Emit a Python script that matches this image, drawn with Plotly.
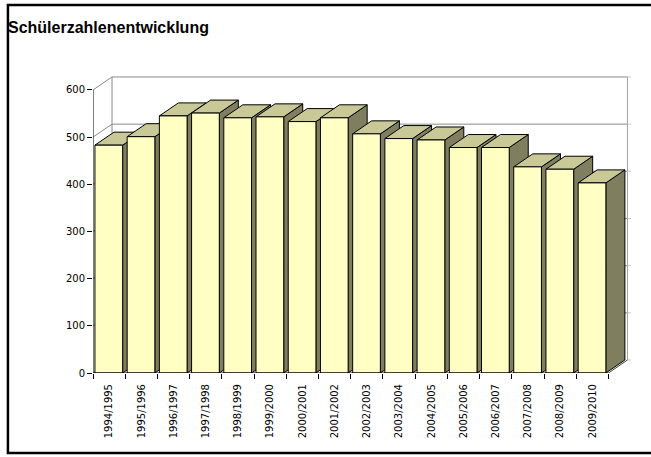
import plotly.graph_objects as go

# ---- data ----
categories = ["1994/1995", "1995/1996", "1996/1997", "1997/1998", "1998/1999",
              "1999/2000", "2000/2001", "2001/2002", "2002/2003", "2003/2004",
              "2004/2005", "2005/2006", "2006/2007", "2007/2008", "2008/2009",
              "2009/2010"]
values = [483, 501, 545, 551, 541, 543, 533, 541, 507, 497, 494, 478, 478, 437, 432, 403]
y_ticks = [0, 100, 200, 300, 400, 500, 600]
title_text = "Schülerzahlenentwicklung"

# ---- layout geometry (pixels) ----
W, H = 651, 457
ML, MT, MB = 93, 70, 84
PX_X = 32.19          # pixels per category
PX_Y = 0.4717         # pixels per value unit
XMAX = 16.7
plot_w = XMAX * PX_X
MR = W - ML - plot_w
plot_h = H - MT - MB
YMAX = plot_h / PX_Y

DX = 19 / PX_X        # depth offset in x units
DY = 13 / PX_Y        # depth offset in y units
BL, BR = 0.06, 0.92   # bar front face extents inside category

n = len(categories)
ymax_tick = max(y_ticks)

FRONT = "#FFFFC4"
TOP = "#C9C997"
SIDE = "#7F7F5F"
GRID = "#8A8A8A"
TICKFONT = "DejaVu Sans, Verdana, sans-serif"

fig = go.Figure()

def line(xs, ys, color=GRID, width=1):
    fig.add_trace(go.Scatter(x=xs, y=ys, mode="lines", line=dict(color=color, width=width),
                             hoverinfo="skip", showlegend=False))

def poly(xs, ys, fill):
    fig.add_trace(go.Scatter(x=xs, y=ys, mode="lines", fill="toself", fillcolor=fill,
                             line=dict(color="black", width=1), hoverinfo="skip",
                             showlegend=False))

# back wall gridlines and left wall diagonals
for t in y_ticks:
    if t == 0:
        continue
    line([DX, n + DX], [t + DY, t + DY])
    line([0, DX], [t, t + DY])
line([DX, DX], [DY, ymax_tick + DY])
line([n + DX, n + DX], [DY, ymax_tick + DY], color="#A0A0A0")
line([0, DX], [0, DY])
# faint tick marks on the right wall edge
for t in y_ticks:
    line([n + DX, n + DX + 4 / PX_X], [t + DY, t + DY], color="#C8C8C8")

# bars (painter's order left to right)
for i, v in enumerate(values):
    xl, xr = i + BL, i + BR
    poly([xr, xr + DX, xr + DX, xr, xr], [0, DY, v + DY, v, 0], SIDE)
    poly([xl, xr, xr + DX, xl + DX, xl], [v, v, v + DY, v + DY, v], TOP)
    poly([xl, xr, xr, xl, xl], [0, 0, v, v, 0], FRONT)

# floor front edge, right floor diagonal, y axis line
line([0, n], [0, 0], color="black")
line([n, n + DX], [0, DY], color="#404040")
line([0, 0], [0, ymax_tick], color="black")

fig.update_layout(
    width=W, height=H,
    margin=dict(l=ML, r=MR, t=MT, b=MB, pad=0),
    paper_bgcolor="white", plot_bgcolor="white",
    showlegend=False,
    font=dict(family=TICKFONT, color="black", size=10),
    title=dict(text="<b>" + title_text + "</b>", x=8 / W, xanchor="left",
               xref="container", y=1 - 27 / H, yanchor="middle", yref="container",
               font=dict(size=16, family="Liberation Sans, Arial, sans-serif", color="black")),
    xaxis=dict(range=[0, XMAX], showgrid=False, zeroline=False, showline=False,
               tickmode="array", tickvals=[i + 0.5 for i in range(n)], ticktext=categories,
               tickangle=-90, ticks="outside", ticklen=6, tickcolor="rgba(0,0,0,0)",
               tickfont=dict(size=10, family=TICKFONT),
               minor=dict(tickmode="array", tickvals=list(range(n + 1)), ticks="outside",
                          ticklen=5, tickcolor="black", showgrid=False)),
    yaxis=dict(range=[0, YMAX], showgrid=False, zeroline=False, showline=False,
               tickmode="array", tickvals=y_ticks, ticks="outside", ticklen=5,
               tickcolor="black", tickfont=dict(size=10, family=TICKFONT)),
)

# outer frame
px2x = lambda px: (px - ML) / plot_w
px2y = lambda py: (H - MB - py) / plot_h
fig.add_shape(type="rect", xref="paper", yref="paper",
              x0=px2x(8), x1=px2x(653), y0=px2y(453), y1=px2y(5),
              line=dict(color="black", width=2.5), fillcolor="rgba(0,0,0,0)", layer="above")

fig.write_html("out.html", post_script="document.body.style.margin='0';",
               config={"displayModeBar": False})
